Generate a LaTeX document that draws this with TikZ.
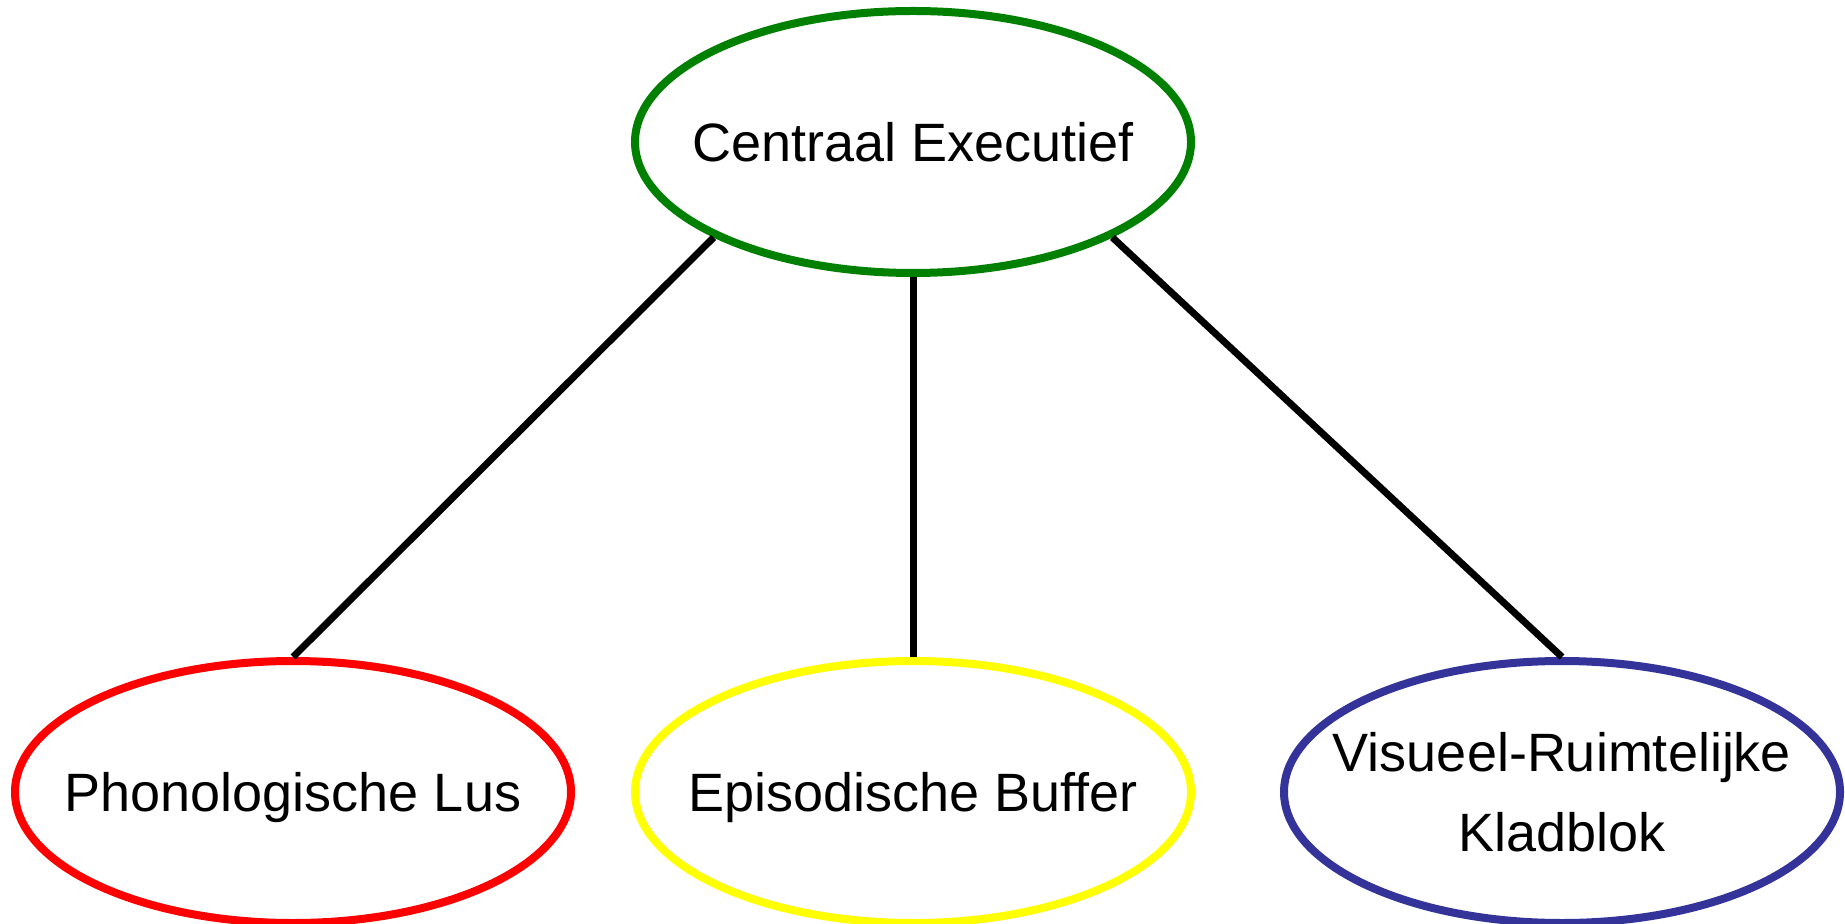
\documentclass[tikz,border=0pt]{standalone}
\usepackage{fontspec}
\setmainfont{Liberation Sans}
\usetikzlibrary{backgrounds}
\usetikzlibrary{shapes.geometric}
\definecolor{ceGreen}{RGB}{0,128,0}
\definecolor{plRed}{RGB}{255,0,0}
\definecolor{ebYellow}{RGB}{255,255,0}
\definecolor{vrBlue}{RGB}{51,51,153}
\tikzset{background fill/.style={background rectangle/.style={fill=#1},show background rectangle}}
\tikzset{module/.style={ellipse, draw=#1, line width=4pt, fill=white,
    minimum width=278pt, minimum height=131pt, inner xsep=-20pt, inner ysep=0pt,
    font=\fontsize{27pt}{40pt}\selectfont},
  oneline/.style={text height=19.5pt, text depth=0pt},
  link/.style={line width=3.5pt, color=black}}

\begin{document}
\begin{tikzpicture}[x=0.5pt, y=-0.5pt, background fill=white, inner frame sep=0pt]
    \useasboundingbox (0,0) rectangle (1845,924);

    % Globals
    \pgfmathsetmacro{\topY}{142}
    \pgfmathsetmacro{\botY}{792}
    \pgfmathsetmacro{\midX}{913}

    % Modules
    \coordinate (CE_C) at (\midX, \topY);
    \coordinate (PL_C) at (293, \botY);
    \coordinate (EB_C) at (\midX, \botY);
    \coordinate (VR_C) at (1562, \botY);

    \node[module=ceGreen, oneline] (CE) at (CE_C) {Centraal Executief};
    \node[module=plRed, oneline] (PL) at (PL_C) {Phonologische Lus};
    \node[module=ebYellow, oneline] (EB) at (EB_C) {Episodische Buffer};
    \node[module=vrBlue, align=center] (VR) at (VR_C) {Visueel-Ruimtelijke\\Kladblok};

    % Links
    \draw[link] (CE.south west) -- (PL.north);
    \draw[link] (CE.south) -- (EB.north);
    \draw[link] (CE.south east) -- (VR.north);

\end{tikzpicture}
\end{document}
